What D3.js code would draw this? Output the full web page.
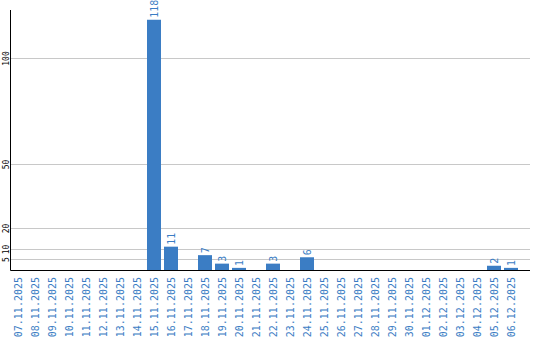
<!DOCTYPE html>
<html>
<head>
<meta charset="utf-8">
<script src="https://cdn.jsdelivr.net/npm/d3@7"></script>
<style>
  body { margin: 0; background: #fff; }
  svg { display: block; }
</style>
</head>
<body>
<svg id="chart" width="540" height="340"></svg>
<script>
const dates = [
    "07.11.2025", "08.11.2025", "09.11.2025", "10.11.2025", "11.11.2025",
    "12.11.2025", "13.11.2025", "14.11.2025", "15.11.2025", "16.11.2025",
    "17.11.2025", "18.11.2025", "19.11.2025", "20.11.2025", "21.11.2025",
    "22.11.2025", "23.11.2025", "24.11.2025", "25.11.2025", "26.11.2025",
    "27.11.2025", "28.11.2025", "29.11.2025", "30.11.2025", "01.12.2025",
    "02.12.2025", "03.12.2025", "04.12.2025", "05.12.2025", "06.12.2025"
];
const counts = [0, 0, 0, 0, 0, 0, 0, 0, 118, 11, 0, 7, 3, 1, 0, 3, 0, 6, 0, 0, 0, 0, 0, 0, 0, 0, 0, 0, 2, 1];
const yTicks = [5, 10, 20, 50, 100];

const svg = d3.select("#chart");
const blue = "#3b7dc4";
const plotLeft = 10.5, plotRight = 530, plotTop = 10, plotBottom = 270;

const x = d3.scaleBand()
    .domain(dates)
    .range([11, 518])
    .paddingInner(3 / 17)
    .paddingOuter(0);

const y = d3.scaleLinear()
    .domain([0, 122.6])
    .range([plotBottom, plotTop]);

// grid lines
svg.append("g")
    .selectAll("line")
    .data(yTicks)
    .enter().append("line")
    .attr("x1", plotLeft)
    .attr("x2", plotRight)
    .attr("y1", d => Math.round(y(d)) + 0.5)
    .attr("y2", d => Math.round(y(d)) + 0.5)
    .attr("stroke", "#c8c8c8")
    .attr("stroke-width", 1);

// y tick labels
svg.append("g")
    .selectAll("text")
    .data(yTicks)
    .enter().append("text")
    .attr("transform", d => `translate(8.5,${Math.round(y(d)) + 0.5}) rotate(-90)`)
    .attr("text-anchor", "middle")
    .attr("font-family", "DejaVu Sans Mono")
    .attr("font-size", 8)
    .attr("fill", "#000")
    .text(d => d);

// bars
svg.append("g")
    .selectAll("rect")
    .data(counts)
    .enter().append("rect")
    .attr("x", (d, i) => x(dates[i]))
    .attr("y", d => y(d))
    .attr("width", x.bandwidth())
    .attr("height", d => plotBottom - y(d))
    .attr("fill", blue);

// value labels
svg.append("g")
    .selectAll("text")
    .data(counts.map((v, i) => ({ v, date: dates[i] })).filter(d => d.v > 0))
    .enter().append("text")
    .attr("transform", d => `translate(${x(d.date) + x.bandwidth() / 2 + 3.5},${y(d.v) - 2}) rotate(-90)`)
    .attr("font-family", "DejaVu Sans Mono")
    .attr("font-size", 10)
    .attr("fill", blue)
    .text(d => d.v);

// category labels
svg.append("g")
    .selectAll("text")
    .data(dates)
    .enter().append("text")
    .attr("transform", d => `translate(${x(d) + x.bandwidth() / 2 + 3.5},277) rotate(-90)`)
    .attr("text-anchor", "end")
    .attr("font-family", "DejaVu Sans Mono")
    .attr("font-size", 10)
    .attr("fill", blue)
    .text(d => d);

// axes lines
svg.append("line")
    .attr("x1", plotLeft).attr("x2", plotLeft)
    .attr("y1", plotTop).attr("y2", plotBottom + 0.5)
    .attr("stroke", "#000");
svg.append("line")
    .attr("x1", plotLeft).attr("x2", plotRight)
    .attr("y1", plotBottom + 0.5).attr("y2", plotBottom + 0.5)
    .attr("stroke", "#000");
</script>
</body>
</html>
